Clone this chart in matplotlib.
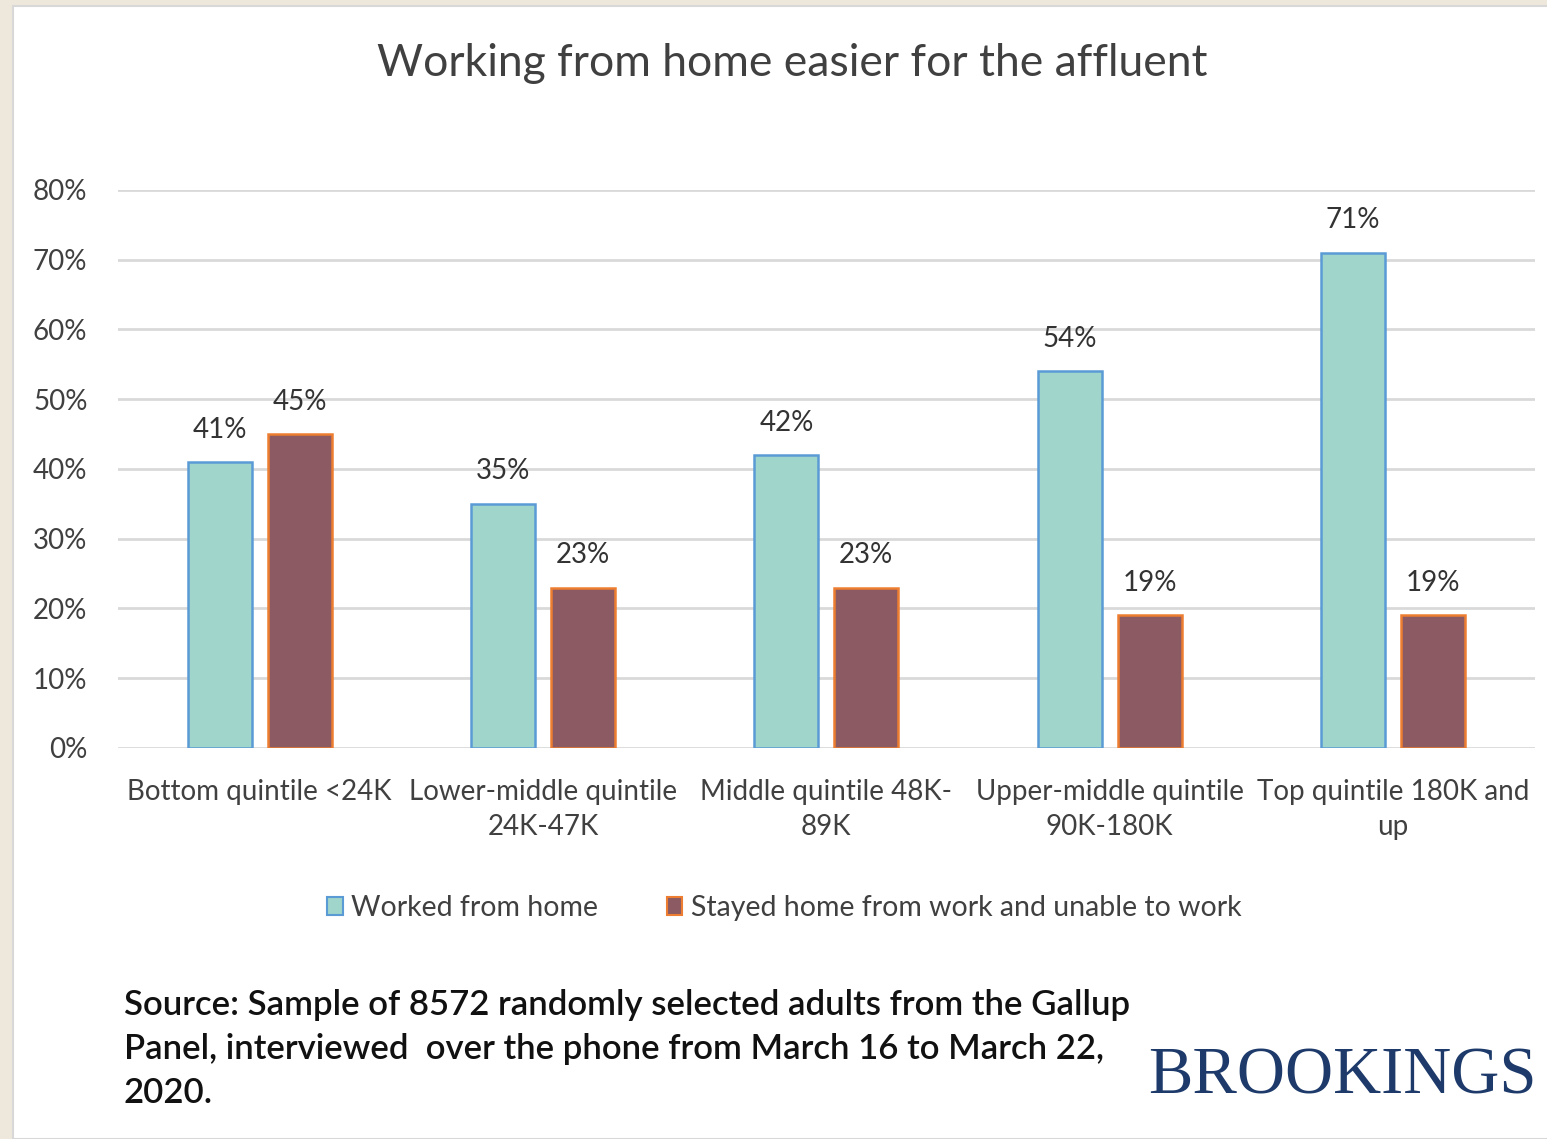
import numpy as np
import matplotlib
matplotlib.use("Agg")
import matplotlib.pyplot as plt
from matplotlib.patches import Rectangle, Patch

# Data
categories = ["Bottom quintile <24K", "Lower-middle quintile\n24K-47K", "Middle quintile 48K-\n89K",
              "Upper-middle quintile\n90K-180K", "Top quintile 180K and\nup"]
worked_home = [41, 35, 42, 54, 71]
stayed_home = [45, 23, 23, 19, 19]
series_names = ["Worked from home", "Stayed home from work and unable to work"]
y_ticks = [0, 10, 20, 30, 40, 50, 60, 70, 80]

plt.rcParams['font.family'] = ['Lato', 'DejaVu Sans']

fig = plt.figure(figsize=(15.47, 11.39), dpi=100)
fig.patch.set_facecolor('#eee8dc')
# white panel inside the beige frame
fig.add_artist(Rectangle((13 / 1547, 0), 1, 1 - 6 / 1139, transform=fig.transFigure,
                         facecolor='white', edgecolor='#d8d8d8', linewidth=1.5, zorder=0))

ax = fig.add_axes([0.0763, 0.3433, 0.9157, 0.4899])
ax.set_facecolor('none')

x = np.arange(len(categories))
w = 0.226
off = 0.141
teal = '#9fd5ca'
maroon = '#8c5a62'
b1 = ax.bar(x - off, worked_home, w, color=teal, edgecolor='#5b9bd5', linewidth=1.8, zorder=3)
b2 = ax.bar(x + off, stayed_home, w, color=maroon, edgecolor='#ed7d31', linewidth=1.8, zorder=3)

for bars, vals in [(b1, worked_home), (b2, stayed_home)]:
    for rect, v in zip(bars, vals):
        ax.annotate(f"{v}%", (rect.get_x() + rect.get_width() / 2, v), xytext=(0, 14),
                    textcoords='offset points', ha='center', va='bottom',
                    fontsize=20, color='#333333')

ax.set_xlim(-0.5, 4.5)
ax.set_ylim(0, 80)
ax.set_yticks(y_ticks)
ax.set_yticklabels([f"{t}%" for t in y_ticks])
ax.set_xticks(x)
ax.set_xticklabels(categories, linespacing=1.45)
ax.tick_params(axis='y', length=0, pad=22, labelsize=20, labelcolor='#404040')
ax.tick_params(axis='x', length=0, pad=22, labelsize=20, labelcolor='#404040')
ax.grid(axis='y', color='#d9d9d9', linewidth=2, zorder=0)
for s in ax.spines.values():
    s.set_visible(False)

fig.text(0.512, 0.944, "Working from home easier for the affluent", ha='center', va='center',
         fontsize=32, color='#404040')

handles = [Patch(facecolor=teal, edgecolor='#5b9bd5', linewidth=1.5),
           Patch(facecolor=maroon, edgecolor='#ed7d31', linewidth=1.5)]
fig.legend(handles, series_names, loc='center', bbox_to_anchor=(0.507, 0.2028), ncol=2,
           frameon=False, fontsize=20.5, labelcolor='#404040', handlelength=0.55, handleheight=0.55,
           handletextpad=0.3, columnspacing=2.4)

fig.text(0.08, 0.0790, "Source: Sample of 8572 randomly selected adults from the Gallup\n"
         "Panel, interviewed  over the phone from March 16 to March 22,\n2020.",
         ha='left', va='center', fontsize=25, fontweight='semibold', color='#111111',
         linespacing=1.48)

fig.text(0.993, 0.054, "BROOKINGS", ha='right', va='center', fontsize=48,
         family=['Liberation Serif', 'DejaVu Serif'], color='#1d3a6b')

fig.savefig('out.png', dpi=100, facecolor=fig.get_facecolor())
